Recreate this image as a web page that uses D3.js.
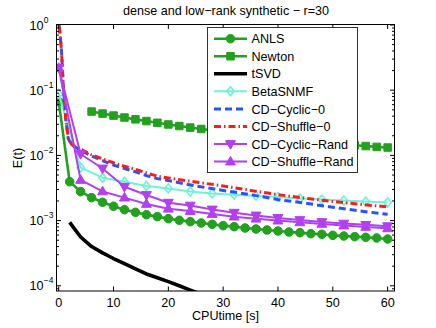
<!DOCTYPE html>
<html>
<head>
<meta charset="utf-8">
<script src="https://cdn.jsdelivr.net/npm/d3@7/dist/d3.min.js"></script>
<style>
html,body{margin:0;padding:0;background:#fff;}
svg{display:block;font-family:"Liberation Sans",Arial,Helvetica,sans-serif;}
</style>
</head>
<body>
<svg id="chart" width="436" height="328"></svg>
<script>
// ---- data ----
const titleText = "dense and low\u2212rank synthetic \u2212 r=30";
const xLabelText = "CPUtime [s]";
const yLabelText = "E(t)";
const xTicks = [0, 10, 20, 30, 40, 50, 60];
const yTickExps = [0, -1, -2, -3, -4];

const anlsX = [0,2,4,6,8,10,12,14,16,18,20,22,24,26,28,30,32,34,36,38,40,42,44,46,48,50,52,54,56,58,60];
const anlsY = [0.0667,0.00395,0.00278,0.00225,0.00191,0.00166,0.00147,0.00134,0.00123,0.00115,0.00107,0.00101,0.000963,0.000919,0.000877,0.000836,0.000807,0.000770,0.000743,0.000717,0.000692,0.000668,0.000653,0.000630,0.000616,0.000594,0.000580,0.000567,0.000554,0.000541,0.000522];

const newtonX = [6,8,10,12,14,16,18,20,22,24,26,28,30,32,34,36,38,40,42,44,46,48,50,52,54,56,58,60];
const newtonY = [0.047,0.0438,0.0408,0.0381,0.0357,0.0336,0.0316,0.0298,0.0282,0.0267,0.0254,0.0242,0.0231,0.0221,0.0212,0.0203,0.0195,0.0188,0.0181,0.0174,0.0168,0.0162,0.0156,0.0150,0.0143,0.0139,0.0135,0.0132];

const tsvdX = [2,4,6,8,10,12,14,16,18,20,22,24,26];
const tsvdY = [0.00094,0.00056,0.00040,0.00032,0.000262,0.000218,0.000182,0.000152,0.000133,0.000116,0.000100,0.000086,0.000074];

const betaX = [0,4,8,12,16,20,24,28,32,36,40,44,48,52,56,60];
const betaY = [0.088,0.0065,0.00455,0.00395,0.0034,0.0031,0.0028,0.0026,0.0025,0.0024,0.0023,0.00218,0.0021,0.00203,0.00197,0.0019];

const cdCyc0X = [0.1,0.5,0.85,1.3,1.75,2.4,4,6,8,10,12,14,16,18,20,25,30,35,40,45,50,55,60];
const cdCyc0Y = [0.95,0.42,0.11,0.036,0.018,0.0144,0.012,0.0098,0.0083,0.0071,0.0063,0.0056,0.0049,0.0044,0.0041,0.0034,0.0029,0.0025,0.0021,0.00185,0.0016,0.0014,0.00125];

const cdShu0X = [0.1,0.5,0.85,1.3,1.75,2.4,4,6,8,10,12,14,16,18,20,25,30,35,40,45,50,55,60];
const cdShu0Y = [0.95,0.42,0.11,0.036,0.018,0.0146,0.0125,0.0102,0.0088,0.0077,0.0068,0.0061,0.0054,0.0048,0.0045,0.0039,0.0034,0.0029,0.0025,0.0022,0.00196,0.00178,0.00162];

const cdCycRX = [0,4,8,12,16,20,24,28,32,36,40,44,48,52,56,60];
const cdCycRY = [0.22,0.0105,0.0063,0.0033,0.00247,0.00188,0.0017,0.00148,0.00132,0.0012,0.0011,0.00102,0.00095,0.0009,0.00086,0.00082];

const cdShuRX = [0,4,8,12,16,20,24,28,32,36,40,44,48,52,56,60];
const cdShuRY = [0.22,0.0042,0.0028,0.00225,0.0018,0.00152,0.0014,0.00126,0.00115,0.00107,0.001,0.00094,0.00089,0.00084,0.0008,0.00076];

const seriesNames = ["ANLS","Newton","tSVD","BetaSNMF","CD\u2212Cyclic\u22120","CD\u2212Shuffle\u22120","CD\u2212Cyclic\u2212Rand","CD\u2212Shuffle\u2212Rand"];

// ---- styles ----
const green = "#22a11f", cyan = "#6ff2d6", blue = "#2255ff", red = "#ff1a1a", purple = "#b23ff0";
const series = [
  {name: seriesNames[0], x: anlsX, y: anlsY, color: green, width: 2.6, dash: null, marker: "circle", fill: green},
  {name: seriesNames[1], x: newtonX, y: newtonY, color: green, width: 2.6, dash: null, marker: "square", fill: green},
  {name: seriesNames[2], x: tsvdX, y: tsvdY, color: "#000", width: 3.6, dash: null, marker: null},
  {name: seriesNames[3], x: betaX, y: betaY, color: cyan, width: 2, dash: null, marker: "diamond", fill: "none"},
  {name: seriesNames[4], x: cdCyc0X, y: cdCyc0Y, color: blue, width: 3, dash: "7,4", marker: null},
  {name: seriesNames[5], x: cdShu0X, y: cdShu0Y, color: red, width: 3, dash: "7,3,1.5,3", marker: null},
  {name: seriesNames[6], x: cdCycRX, y: cdCycRY, color: purple, width: 2, dash: null, marker: "tridown", fill: purple},
  {name: seriesNames[7], x: cdShuRX, y: cdShuRY, color: purple, width: 2, dash: null, marker: "triup", fill: purple}
];

// ---- layout ----
const svg = d3.select("#chart");
const L = 56.5, R = 394.5, T = 24.5, B = 291;
const x = d3.scaleLinear().domain([-0.4, 61.25]).range([L, R]);
const y = d3.scaleLog().domain([Math.pow(10, -4.08), Math.pow(10, 0.0077)]).range([B, T]);
const FS = 12.6;

svg.append("rect").attr("x", 0).attr("y", 0).attr("width", 436).attr("height", 328).attr("fill", "#fff");

svg.append("defs").append("clipPath").attr("id", "clip")
  .append("rect").attr("x", L).attr("y", T).attr("width", R - L).attr("height", B - T);

const plot = svg.append("g").attr("clip-path", "url(#clip)");

function markerPath(type, s) {
  const h = s / 2;
  if (type === "square") return `M${-h},${-h}H${h}V${h}H${-h}Z`;
  if (type === "diamond") return `M0,${-h*1.2}L${h},0L0,${h*1.2}L${-h},0Z`;
  if (type === "triup") return `M0,${-h*1.15}L${h*1.1},${h*0.75}L${-h*1.1},${h*0.75}Z`;
  if (type === "tridown") return `M0,${h*1.15}L${h*1.1},${-h*0.75}L${-h*1.1},${-h*0.75}Z`;
  return null;
}
const markerSize = {circle: 8.5, square: 7.5, diamond: 7.5, triup: 9, tridown: 9};

function drawMarker(g, type, cx, cy, s) {
  if (type === "circle") {
    g.append("circle").attr("cx", cx).attr("cy", cy).attr("r", 4.3)
      .attr("fill", s.fill).attr("stroke", s.color).attr("stroke-width", 1);
  } else {
    g.append("path").attr("d", markerPath(type, markerSize[type]))
      .attr("transform", `translate(${cx},${cy})`)
      .attr("fill", s.fill).attr("stroke", s.color)
      .attr("stroke-width", type === "diamond" ? 1.6 : 1);
  }
}

const line = d3.line().x(d => x(d[0])).y(d => y(d[1]));

series.forEach(s => {
  const pts = s.x.map((v, i) => [v, s.y[i]]);
  const g = plot.append("g");
  g.append("path").datum(pts).attr("d", line)
    .attr("fill", "none").attr("stroke", s.color).attr("stroke-width", s.width)
    .attr("stroke-linejoin", "round")
    .attr("stroke-dasharray", s.dash);
  if (s.marker) pts.forEach(p => drawMarker(g, s.marker, x(p[0]), y(p[1]), s));
});

// ---- axes box and ticks ----
const ax = svg.append("g");
ax.append("rect").attr("x", L).attr("y", T).attr("width", R - L).attr("height", B - T)
  .attr("fill", "none").attr("stroke", "#000").attr("stroke-width", 1);

xTicks.forEach(t => {
  const px = x(t);
  ax.append("line").attr("x1", px).attr("x2", px).attr("y1", B).attr("y2", B - 4.5).attr("stroke", "#000");
  ax.append("line").attr("x1", px).attr("x2", px).attr("y1", T).attr("y2", T + 4.5).attr("stroke", "#000");
  ax.append("text").attr("x", px).attr("y", 306.5).attr("text-anchor", "middle")
    .attr("font-size", FS).text(t);
});

yTickExps.forEach(e => {
  const py = y(Math.pow(10, e));
  ax.append("line").attr("x1", L).attr("x2", L + 4.5).attr("y1", py).attr("y2", py).attr("stroke", "#000");
  ax.append("line").attr("x1", R).attr("x2", R - 4.5).attr("y1", py).attr("y2", py).attr("stroke", "#000");
  const tx = ax.append("text").attr("x", 43.5).attr("y", py + 4.5).attr("text-anchor", "end").attr("font-size", FS);
  tx.text("10");
  ax.append("text").attr("x", 43.8).attr("y", py - 2.5).attr("font-size", 8.5)
    .text(e === 0 ? "0" : "\u2212" + (-e));
  if (e > -5) {
    for (let m = 2; m <= 9; m++) {
      const v = m * Math.pow(10, e - 1);
      if (v < y.domain()[0]) continue;
      const pm = y(v);
      ax.append("line").attr("x1", L).attr("x2", L + 2.5).attr("y1", pm).attr("y2", pm).attr("stroke", "#000");
      ax.append("line").attr("x1", R).attr("x2", R - 2.5).attr("y1", pm).attr("y2", pm).attr("stroke", "#000");
    }
  }
});

// ---- labels ----
svg.append("text").attr("x", 226).attr("y", 15).attr("text-anchor", "middle").attr("font-size", FS).text(titleText);
svg.append("text").attr("x", 225.5).attr("y", 320).attr("text-anchor", "middle").attr("font-size", FS).text(xLabelText);
svg.append("text").attr("transform", "translate(22,158) rotate(-90)").attr("text-anchor", "middle")
  .attr("font-size", FS).text(yLabelText);

// ---- legend ----
const lg = svg.append("g");
lg.append("rect").attr("x", 207.5).attr("y", 27.5).attr("width", 150).attr("height", 145)
  .attr("fill", "#fff").attr("stroke", "#333").attr("stroke-width", 1);
series.forEach((s, i) => {
  const cy = 38.7 + i * 17.55;
  lg.append("line").attr("x1", 214).attr("x2", 247).attr("y1", cy).attr("y2", cy)
    .attr("stroke", s.color).attr("stroke-width", s.width).attr("stroke-dasharray", s.dash);
  if (s.marker) drawMarker(lg, s.marker, 230.5, cy, s);
  lg.append("text").attr("x", 251.5).attr("y", cy + 4.6).attr("font-size", FS).text(s.name);
});
</script>
</body>
</html>
